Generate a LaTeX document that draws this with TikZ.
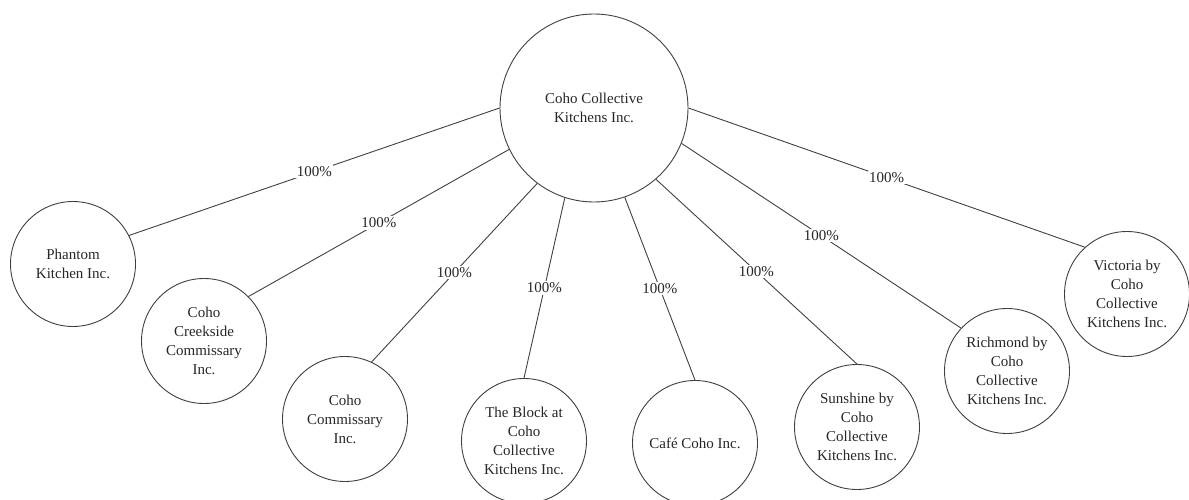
\documentclass[tikz,border=0pt]{standalone}
\usepackage{fontspec}
\setmainfont{Liberation Serif}

\begin{document}
\begin{tikzpicture}[x = 1pt, y = -1pt,
        company/.style = {draw = black!75, line width = 0.9pt, circle, minimum size = 125pt, inner sep = 0pt, align = center, text = black!85, font = \fontsize{15}{19}\selectfont},
        owns/.style = {draw = black!75, line width = 0.9pt},
        share/.style = {midway, fill = white, inner sep = 1.5pt, text = black!85, font = \fontsize{15}{18}\selectfont}]
        \useasboundingbox (0, 0) rectangle (1189, 500);
        \node[company, minimum size = 188pt] (coho) at (594, 108) {Coho Collective\\Kitchens Inc.};
        \node[company] (phantom) at (73, 264) {Phantom\\Kitchen Inc.};
        \node[company] (creekside) at (204, 341) {Coho\\Creekside\\Commissary\\Inc.};
        \node[company] (commissary) at (345, 419) {Coho\\Commissary\\Inc.};
        \node[company] (block) at (524, 441) {The Block at\\Coho\\Collective\\Kitchens Inc.};
        \node[company] (cafe) at (695, 443) {Café Coho Inc.};
        \node[company] (sunshine) at (857, 427) {Sunshine by\\Coho\\Collective\\Kitchens Inc.};
        \node[company] (richmond) at (1007, 371) {Richmond by\\Coho\\Collective\\Kitchens Inc.};
        \node[company] (victoria) at (1127, 294) {Victoria by\\Coho\\Collective\\Kitchens Inc.};
        \draw[owns] (coho.180) -- (phantom.27) node[share] {100\%};
        \draw[owns] (coho.206) -- (creekside.45) node[share] {100\%};
        \draw[owns] (coho.233) -- (commissary.65) node[share] {100\%};
        \draw[owns] (coho.252) -- (block.90) node[share] {100\%};
        \draw[owns] (coho.289) -- (cafe.90) node[share] {100\%};
        \draw[owns] (coho.311) -- (sunshine.90) node[share] {100\%};
        \draw[owns] (coho.338) -- (richmond.137) node[share] {100\%};
        \draw[owns] (coho.0) -- (victoria.132) node[share] {100\%};
    \end{tikzpicture}
\end{document}
